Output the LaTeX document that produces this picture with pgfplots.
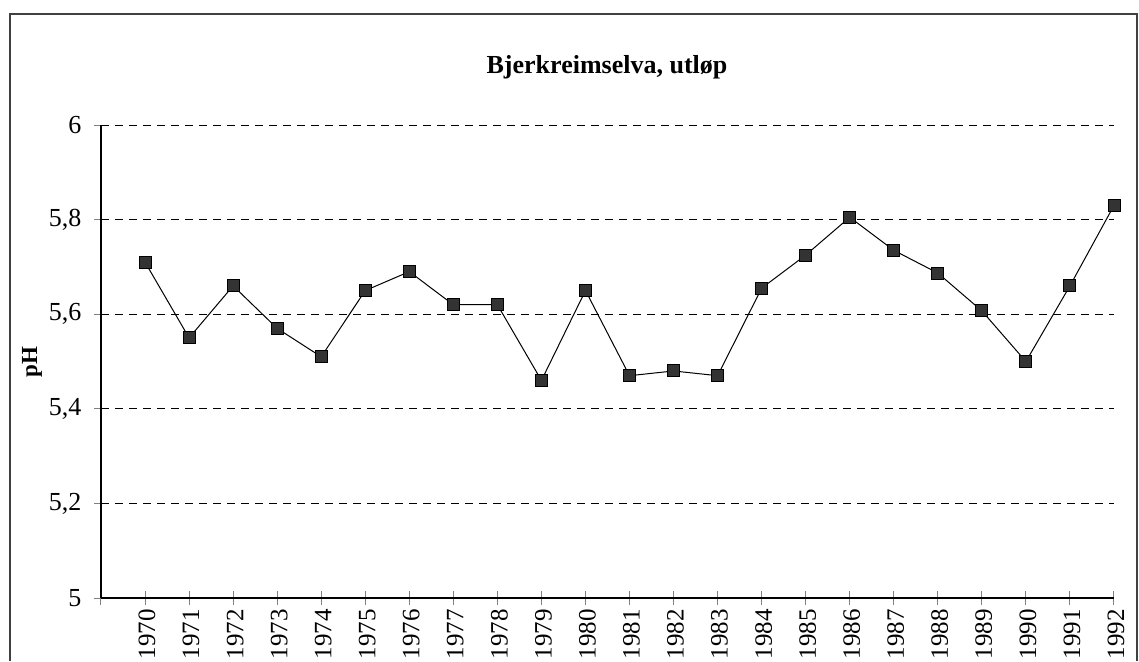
\documentclass[border=0pt]{standalone}
\usepackage{fontspec}
\setmainfont{Liberation Serif}
\usepackage{pgfplots}
\pgfplotsset{compat=1.18}
\begin{document}
\begin{tikzpicture}
\path[use as bounding box] (0,0) rectangle (569.5pt,330.5pt);
\draw[line width=0.6pt, black!75] (5pt,0) -- (5pt,323.5pt) -- (568.5pt,323.5pt) -- (568.5pt,0);
\node[font=\fontsize{13}{15}\selectfont\bfseries] at (303.5pt,297pt) {Bjerkreimselva, utløp};
\node[font=\fontsize{11.5}{13}\selectfont\bfseries, rotate=90] at (16pt,149.5pt) {pH};
\begin{axis}[
  at={(50.5pt,31.5pt)}, anchor=south west,
  scale only axis, width=506.5pt, height=236.5pt,
  xmin=1969, xmax=1992, ymin=5, ymax=6,
  axis x line*=bottom, axis y line*=left,
  axis line style={line width=0.6pt},
  clip=false,
  xtick={1969,...,1992},
  xticklabels={{},1970,1971,1972,1973,1974,1975,1976,1977,1978,1979,1980,1981,1982,1983,1984,1985,1986,1987,1988,1989,1990,1991,1992},
  x tick label style={rotate=90, anchor=east, font=\fontsize{12.5}{14}\selectfont, yshift=-1pt},
  xtick align=center,
  ytick align=outside,
  xtick style={/pgfplots/major tick length=7pt, line width=0.5pt},
  ytick style={/pgfplots/major tick length=3.5pt, line width=0.5pt},
  ytick={5,5.2,5.4,5.6,5.8,6},
  y tick label style={font=\fontsize{13}{15}\selectfont, xshift=-2pt},
  /pgf/number format/use comma,
  /pgf/number format/assume math mode=true,
  ymajorgrids,
  grid style={black, line width=0.4pt, dash pattern=on 4pt off 3pt},
]
\addplot[black, line width=0.5pt, mark=square*, mark size=3pt,
  mark options={fill=black!80, draw=black, solid}] coordinates {
(1970,5.71) (1971,5.55) (1972,5.66) (1973,5.57) (1974,5.51) (1975,5.65)
(1976,5.69) (1977,5.62) (1978,5.62) (1979,5.46) (1980,5.65) (1981,5.47)
(1982,5.48) (1983,5.47) (1984,5.655) (1985,5.725) (1986,5.805) (1987,5.735)
(1988,5.687) (1989,5.607) (1990,5.50) (1991,5.66) (1992,5.83)
};
\end{axis}
\end{tikzpicture}
\end{document}
